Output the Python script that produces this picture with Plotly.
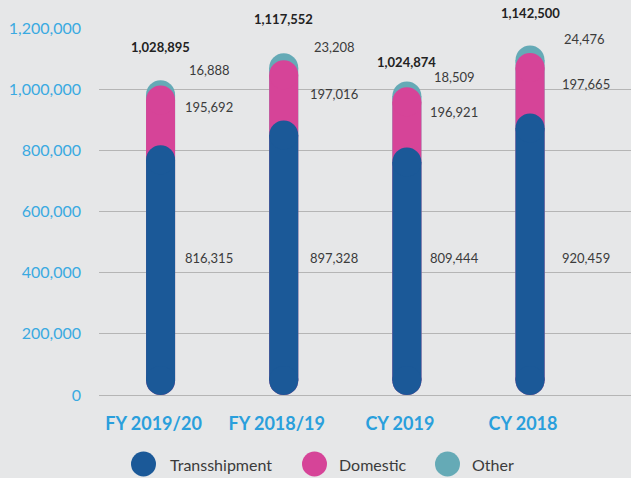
"""Contenedores por tipo: barras redondeadas apiladas."""

import plotly.graph_objects as go

CATEGORIAS = ['FY 2019/20', 'FY 2018/19', 'CY 2019', 'CY 2018']
TRANSSHIPMENT = [816315, 897328, 809444, 920459]
DOMESTIC = [195692, 197016, 196921, 197665]
OTHER = [16888, 23208, 18509, 24476]
TOTALES = [1028895, 1117552, 1024874, 1142500]

COLORES = {
    'transshipment': '#1b5998',
    'domestic': '#d64498',
    'other': '#65aab6',
    'fondo': '#e6e7e8',
    'grid': '#b5b5b5',
    'eje': '#3aaae1',
    'cat': '#2a9fdc',
    'texto': '#3b3b3b',
}

# geometría (px) del lienzo de referencia
ANCHO, ALTO = 631, 478
M_IZQ, M_SUP, M_INF = 99, 28, 83
ALTO_PLOT = ALTO - M_SUP - M_INF
ANCHO_PLOT = ANCHO - M_IZQ
Y_MAX = 1200000
X_RANGO = [-0.5, 3.82]
BARRA_PX = 29
R_UNID = (BARRA_PX / 2) * Y_MAX / ALTO_PLOT

FUENTE = 'Lato, "Open Sans", sans-serif'


def _pildora(tope, color, nombre):
    """Barra tipo píldora: línea gruesa + círculos en los extremos."""
    xs, ys = [], []
    for cat, t in zip(CATEGORIAS, tope):
        xs += [cat, cat, None]
        ys += [R_UNID, t - R_UNID, None]
    return go.Scatter(
        x=xs, y=ys, name=nombre, mode='lines+markers',
        line=dict(color=color, width=BARRA_PX),
        marker=dict(size=BARRA_PX, color=color, line=dict(width=0)),
        showlegend=False, hoverinfo='skip', cliponaxis=False,
    )


def _px_a_paper_x(px):
    return (px - M_IZQ) / ANCHO_PLOT


def _px_a_paper_y(py):
    return (ALTO - M_INF - py) / ALTO_PLOT


trans_dom = [t + d for t, d in zip(TRANSSHIPMENT, DOMESTIC)]
tope_other = [td + o for td, o in zip(trans_dom, OTHER)]

fig = go.Figure()
fig.add_trace(_pildora(tope_other, COLORES['other'], 'Other'))
fig.add_trace(_pildora(trans_dom, COLORES['domestic'], 'Domestic'))
fig.add_trace(_pildora(TRANSSHIPMENT, COLORES['transshipment'], 'Transshipment'))

# desplazamientos de etiquetas (px)
SHIFT_TOTAL_Y = [33, 34, 20, 33]
SHIFT_OTHER_Y = [10, 6, 5, 7]
SHIFT_DOM_Y = [-22, -34, -25, -31]
SHIFT_OTHER_X = [26, 28, 25, 32]
SHIFT_DOM_X = [22, 24, 21, 30]
Y_ETIQ_TRANS = 448000

anotaciones = []
for i, cat in enumerate(CATEGORIAS):
    anotaciones.append(dict(
        x=cat, y=TOTALES[i], text=f'<b>{TOTALES[i]:,}</b>', showarrow=False,
        yshift=SHIFT_TOTAL_Y[i], xanchor='center', yanchor='middle',
        font=dict(size=13, color='#222222', family=FUENTE),
    ))
    anotaciones.append(dict(
        x=cat, y=tope_other[i], text=f'{OTHER[i]:,}', showarrow=False,
        xshift=SHIFT_OTHER_X[i], yshift=SHIFT_OTHER_Y[i],
        xanchor='left', yanchor='middle',
        font=dict(size=13, color=COLORES['texto'], family=FUENTE),
    ))
    anotaciones.append(dict(
        x=cat, y=trans_dom[i], text=f'{DOMESTIC[i]:,}', showarrow=False,
        xshift=SHIFT_DOM_X[i], yshift=SHIFT_DOM_Y[i],
        xanchor='left', yanchor='middle',
        font=dict(size=13, color=COLORES['texto'], family=FUENTE),
    ))
    anotaciones.append(dict(
        x=cat, y=Y_ETIQ_TRANS, text=f'{TRANSSHIPMENT[i]:,}', showarrow=False,
        xshift=SHIFT_DOM_X[i], xanchor='left', yanchor='middle',
        font=dict(size=13, color=COLORES['texto'], family=FUENTE),
    ))

# leyenda manual (círculos grandes)
LEYENDA = [
    ('Transshipment', COLORES['transshipment'], 143.5, 168),
    ('Domestic', COLORES['domestic'], 314.5, 337),
    ('Other', COLORES['other'], 447.5, 470),
]
Y_LEYENDA = 464
formas = []
for nombre, color, cx, tx in LEYENDA:
    formas.append(dict(
        type='circle', xref='paper', yref='paper',
        xsizemode='pixel', ysizemode='pixel',
        xanchor=_px_a_paper_x(cx), yanchor=_px_a_paper_y(Y_LEYENDA),
        x0=-12.5, x1=12.5, y0=-12.5, y1=12.5,
        fillcolor=color, line=dict(width=0),
    ))
    anotaciones.append(dict(
        xref='paper', yref='paper', x=_px_a_paper_x(tx),
        y=_px_a_paper_y(Y_LEYENDA), text=nombre, showarrow=False,
        xanchor='left', yanchor='middle',
        font=dict(size=16, color=COLORES['texto'], family=FUENTE),
    ))

fig.update_layout(
    paper_bgcolor=COLORES['fondo'],
    plot_bgcolor=COLORES['fondo'],
    margin=dict(l=M_IZQ, r=0, t=M_SUP, b=M_INF),
    showlegend=False,
    annotations=anotaciones,
    shapes=formas,
    font=dict(family=FUENTE),
)
fig.update_xaxes(
    type='category', categoryorder='array', categoryarray=CATEGORIAS,
    range=X_RANGO, showgrid=False, zeroline=False, showline=False,
    ticks='', ticklabelstandoff=16, ticklabelshift=-7,
    tickfont=dict(size=18, color=COLORES['cat'], family=FUENTE, weight='bold'),
)
fig.update_yaxes(
    range=[0, Y_MAX], dtick=200000, tickformat=',',
    showgrid=True, gridcolor=COLORES['grid'], gridwidth=1,
    zeroline=True, zerolinecolor=COLORES['grid'], zerolinewidth=1,
    showline=False, ticks='', ticklabelstandoff=17,
    tickfont=dict(size=16, color=COLORES['eje'], family=FUENTE),
)

fig.write_html(
    'out.html',
    default_width='100%',
    default_height='100%',
    config={'responsive': True, 'displayModeBar': False},
)
with open('out.html', encoding='utf-8') as f:
    html = f.read()
html = html.replace('<head>', '<head><style>html,body{margin:0;padding:0;width:100%;height:100%;overflow:hidden;}</style>', 1)
with open('out.html', 'w', encoding='utf-8') as f:
    f.write(html)
